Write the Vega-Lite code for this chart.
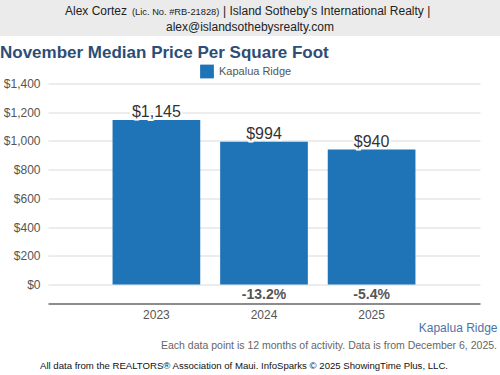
{
  "$schema": "https://vega.github.io/schema/vega-lite/v6.json",
  "padding": 0,
  "background": "white",
  "spacing": 7.5,
  "align": "none",
  "resolve": {"scale": {"color": "independent"}, "legend": {"color": "independent"}},
  "config": {
    "font": "Liberation Sans",
    "view": {"stroke": null},
    "title": {"font": "Liberation Sans"}
  },
  "vconcat": [
    {
      "width": 500,
      "height": 36,
      "view": {"fill": "#ebebeb", "stroke": null},
      "data": {"values": [{"name": "Alex Cortez", "lic": "(Lic. No. #RB-21828)", "firm": "| Island Sotheby's International Realty |", "email": "alex@islandsothebysrealty.com"}]},
      "layer": [
        {"mark": {"type": "text", "align": "left", "baseline": "middle", "fontSize": 12, "color": "#222", "dx": -185, "dy": -7.5}, "encoding": {"text": {"field": "name"}}},
        {"mark": {"type": "text", "align": "left", "baseline": "middle", "fontSize": 9.3, "color": "#222", "dx": -118, "dy": -6.5}, "encoding": {"text": {"field": "lic"}}},
        {"mark": {"type": "text", "align": "left", "baseline": "middle", "fontSize": 12, "color": "#222", "dx": -27, "dy": -7.5}, "encoding": {"text": {"field": "firm"}}},
        {"mark": {"type": "text", "align": "center", "baseline": "middle", "fontSize": 12, "color": "#222", "dx": 0, "dy": 9}, "encoding": {"text": {"field": "email"}}}
      ]
    },
    {
      "width": 480,
      "height": 220,
      "title": {"text": "November Median Price Per Square Foot", "anchor": "start", "frame": "group", "dx": 0, "fontSize": 17, "fontWeight": "bold", "color": "#2c4e76", "offset": 2.5},
      "data": {"values": [
        {"year": "2023", "value": 1145, "pct": null, "series": "Kapalua Ridge"},
        {"year": "2024", "value": 994, "pct": "-13.2%", "series": "Kapalua Ridge"},
        {"year": "2025", "value": 940, "pct": "-5.4%", "series": "Kapalua Ridge"}
      ]},
      "resolve": {"axis": {"y": "independent"}},
      "encoding": {
        "x": {"field": "year", "type": "ordinal", "scale": {"range": [48, 480], "paddingInner": 0.185, "paddingOuter": 0.6},
          "axis": {"title": "Kapalua Ridge", "titleAnchor": "end", "titleAlign": "right", "titleX": 497, "titleColor": "#4a74a5", "titleFontSize": 12, "titleFontWeight": "normal", "titlePadding": 2, "labelAngle": 0, "labelFontSize": 12, "labelColor": "#555", "labelPadding": 6, "ticks": false, "domainColor": "#666", "domainWidth": 1.5, "grid": false}}
      },
      "layer": [
        {
          "mark": {"type": "bar", "color": "#1f73b7"},
          "encoding": {
            "y": {"field": "value", "type": "quantitative", "scale": {"domain": [-132, 1400], "nice": false, "zero": false},
              "axis": {"title": null, "offset": -48, "values": [0, 200, 400, 600, 800, 1000, 1200, 1400], "format": "$,.0f", "labelOverlap": false, "labelFontSize": 12, "labelColor": "#555", "labelPadding": 8, "ticks": false, "domain": false, "gridColor": "#dadada", "gridWidth": 1}},
            "color": {"field": "series", "type": "nominal", "scale": {"range": ["#1f73b7"]},
              "legend": {"title": null, "orient": "none", "legendX": 200, "legendY": -19, "direction": "horizontal", "symbolType": "square", "symbolSize": 190, "symbolStrokeWidth": 0, "labelFontSize": 11, "labelColor": "#555", "labelOffset": 5}}
          }
        },
        {
          "mark": {"type": "text", "baseline": "alphabetic", "dy": -3, "fontSize": 16, "stroke": "white", "strokeWidth": 4, "color": "white"},
          "encoding": {"y": {"field": "value", "type": "quantitative", "axis": null}, "text": {"field": "value", "type": "quantitative", "format": "$,.0f"}}
        },
        {
          "mark": {"type": "text", "baseline": "alphabetic", "dy": -3, "fontSize": 16, "color": "#333"},
          "encoding": {"y": {"field": "value", "type": "quantitative", "axis": null}, "text": {"field": "value", "type": "quantitative", "format": "$,.0f"}}
        },
        {
          "transform": [{"filter": "datum.pct != null"}],
          "mark": {"type": "text", "baseline": "middle", "fontSize": 14, "fontWeight": "bold", "color": "#555"},
          "encoding": {"y": {"datum": -75, "type": "quantitative", "axis": null}, "text": {"field": "pct"}}
        }
      ]
    },
    {
      "width": 500,
      "height": 35,
      "data": {"values": [{"note": "All data from the REALTORS® Association of Maui. InfoSparks © 2025 ShowingTime Plus, LLC."}]},
      "title": {"text": "Each data point is 12 months of activity. Data is from December 6, 2025.", "anchor": "end", "frame": "group", "orient": "top", "baseline": "middle", "offset": -10.5, "dx": -3, "fontSize": 10.5, "fontWeight": "normal", "color": "#666"},
      "mark": {"type": "text", "align": "center", "baseline": "middle", "fontSize": 9.6, "color": "#111", "dx": -6, "dy": 2.5},
      "encoding": {"text": {"field": "note"}}
    }
  ]
}
